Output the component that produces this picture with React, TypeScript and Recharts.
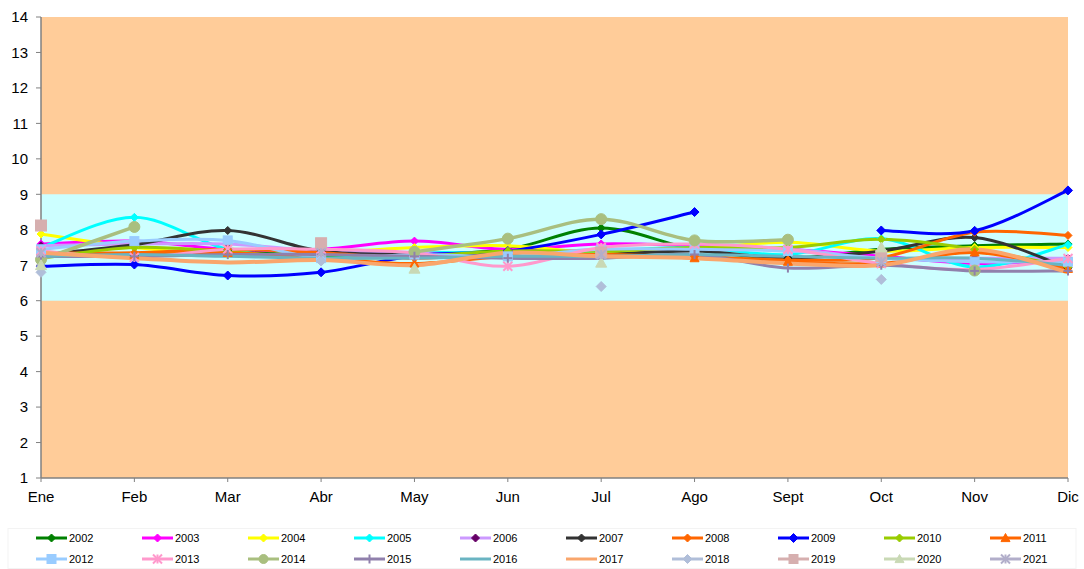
import React from 'react';
import { LineChart, Line, XAxis, YAxis, ReferenceArea, Legend } from 'recharts';

const months = ['Ene', 'Feb', 'Mar', 'Abr', 'May', 'Jun', 'Jul', 'Ago', 'Sept', 'Oct', 'Nov', 'Dic'];
const yTicks = [1, 2, 3, 4, 5, 6, 7, 8, 9, 10, 11, 12, 13, 14];
const years = ['2002', '2003', '2004', '2005', '2006', '2007', '2008', '2009', '2010', '2011',
  '2012', '2013', '2014', '2015', '2016', '2017', '2018', '2019', '2020', '2021'];

const s2002 = [7.3, 7.28, 7.4, 7.25, 7.3, 7.45, 8.05, 7.45, 7.2, 7.45, 7.55, 7.6];
const s2003 = [7.6, 7.68, 7.45, 7.45, 7.68, 7.45, 7.6, 7.55, 7.45, 7.25, 7.05, 7.15];
const s2004 = [7.88, 7.5, 7.3, 7.35, 7.5, 7.55, 7.35, 7.45, 7.65, 7.4, 7.5, 7.5];
const s2005 = [7.5, 8.35, 7.45, 7.2, 7.35, 7.35, 7.4, 7.5, 7.3, 7.75, 6.95, 7.58];
const s2006 = [7.55, 7.6, 7.6, 7.4, 7.35, 7.3, 7.45, 7.42, 7.45, 7.2, 7.2, 7.2];
const s2007 = [7.3, 7.58, 7.98, 7.4, 7.3, 7.3, 7.3, 7.4, 7.2, 7.4, 7.78, 6.93];
const s2008 = [7.35, 7.35, 7.45, 7.35, 7.2, 7.3, 7.3, 7.25, 7.15, 7.22, 7.93, 7.84];
const s2009 = [6.97, 7.02, 6.71, 6.8, 7.27, 7.4, 7.87, 8.5, null, 7.98, 7.97, 9.11];
const s2010 = [7.2, 7.5, 7.38, 7.2, 7.25, 7.4, 7.4, 7.5, 7.5, 7.73, 7.45, 6.95];
const s2011 = [7.3, 7.3, 7.35, 7.2, 7.05, 7.25, 7.3, 7.2, 7.1, 7.05, 7.36, 6.9];
const s2012 = [7.45, 7.68, 7.7, 7.2, 7.3, 7.25, 7.45, 7.45, 7.4, 7.2, 7.1, 7.1];
const s2013 = [7.4, 7.22, 7.45, 7.45, 7.35, 6.97, 7.5, 7.6, 7.45, 7.05, 6.88, 7.19];
const s2014 = [7.16, 8.08, null, null, 7.38, 7.75, 8.3, 7.7, 7.72, null, 6.85, null];
const s2015 = [7.25, 7.25, 7.3, 7.3, 7.25, 7.2, 7.2, 7.3, 6.92, 7.0, 6.84, 6.84];
const s2016 = [7.25, 7.3, 7.25, 7.2, 7.2, 7.25, 7.25, 7.3, 7.25, 7.2, 7.2, 7.0];
const s2017 = [7.35, 7.2, 7.08, 7.15, 7.0, 7.35, 7.25, 7.2, 7.05, 7.0, 7.45, 6.8];
const s2018 = [6.8, null, null, 7.12, null, null, 6.4, null, null, 6.6, null, null];
const s2019 = [8.12, null, null, 7.62, null, null, 7.36, null, null, 7.26, null, null];
const s2020 = [7.0, null, null, null, 6.9, null, 7.07, null, null, 7.5, null, null];
const s2021 = [7.35, null, null, 7.35, null, null, 7.3, null, null, 7.1, null, null];

const seriesValues = [s2002, s2003, s2004, s2005, s2006, s2007, s2008, s2009, s2010, s2011,
  s2012, s2013, s2014, s2015, s2016, s2017, s2018, s2019, s2020, s2021];

const lineColors = ['#008000', '#FF00FF', '#FFFF00', '#00FFFF', '#CC99FF', '#333333', '#FF6600', '#0000FF', '#99CC00', '#FF6600',
  '#99CCFF', '#FF99CC', '#A9BF7F', '#9080AC', '#6AB4C2', '#F9A66C', '#B0BED9', '#D6AFAF', '#C9D9B5', '#B2AECA'];
const markerColors = ['#008000', '#FF00FF', '#FFFF00', '#00FFFF', '#660066', '#333333', '#FF6600', '#0000FF', '#99CC00', '#FF6600',
  '#99CCFF', '#FF99CC', '#A9BF7F', '#9080AC', '#6AB4C2', '#F9A66C', '#B0BED9', '#D6AFAF', '#C9D9B5', '#B2AECA'];
const markerShapes = ['diamond', 'diamond', 'diamond', 'diamond', 'diamond', 'diamond', 'diamond', 'diamond', 'diamond', 'triangle',
  'square', 'star', 'circle', 'plus', 'none', 'none', 'diamond', 'square', 'triangle', 'star'];
const markerSizes = [4, 4, 4, 4, 4, 4, 4, 4.5, 4, 4.5, 4.5, 4.5, 5.5, 4.5, 0, 0, 5, 5.5, 5.5, 4.5];
const lineWidths = [3, 3, 3, 3, 3, 3, 3, 3, 3, 3, 3, 3, 3.5, 3, 3, 4, 3, 3, 3, 3];

const data = months.map((m, i) => {
  const row: any = { month: m };
  years.forEach((y, k) => { row[y] = seriesValues[k][i]; });
  return row;
});

// Excel-like smoothed line (Catmull-Rom style bezier)
const excelCurve: any = (context: any) => {
  let pts: number[][] = [];
  return {
    areaStart() {},
    areaEnd() {},
    lineStart() { pts = []; },
    point(x: number, y: number) { pts.push([+x, +y]); },
    lineEnd() {
      const n = pts.length;
      if (!n) return;
      context.moveTo(pts[0][0], pts[0][1]);
      for (let i = 0; i < n - 1; i++) {
        const p0 = pts[i - 1] || pts[i];
        const p1 = pts[i];
        const p2 = pts[i + 1];
        const p3 = pts[i + 2] || p2;
        context.bezierCurveTo(
          p1[0] + (p2[0] - p0[0]) / 6, p1[1] + (p2[1] - p0[1]) / 6,
          p2[0] - (p3[0] - p1[0]) / 6, p2[1] - (p3[1] - p1[1]) / 6,
          p2[0], p2[1]);
      }
    },
  };
};

function Marker({ cx, cy, shape, color, s }: any) {
  switch (shape) {
    case 'diamond':
      return <polygon points={`${cx},${cy - s} ${cx + s},${cy} ${cx},${cy + s} ${cx - s},${cy}`} fill={color} stroke={color} strokeWidth={1} />;
    case 'square':
      return <rect x={cx - s} y={cy - s} width={2 * s} height={2 * s} fill={color} stroke={color} strokeWidth={1} />;
    case 'triangle':
      return <polygon points={`${cx},${cy - s} ${cx + s},${cy + s * 0.8} ${cx - s},${cy + s * 0.8}`} fill={color} stroke={color} strokeWidth={1} />;
    case 'circle':
      return <circle cx={cx} cy={cy} r={s} fill={color} stroke={color} strokeWidth={1} />;
    case 'star':
      return (
        <g stroke={color} strokeWidth={2}>
          <line x1={cx - s} y1={cy - s} x2={cx + s} y2={cy + s} />
          <line x1={cx - s} y1={cy + s} x2={cx + s} y2={cy - s} />
          <line x1={cx} y1={cy - s} x2={cx} y2={cy + s} />
        </g>
      );
    case 'plus':
      return (
        <g stroke={color} strokeWidth={2}>
          <line x1={cx - s} y1={cy} x2={cx + s} y2={cy} />
          <line x1={cx} y1={cy - s} x2={cx} y2={cy + s} />
        </g>
      );
    default:
      return <g />;
  }
}

const makeDot = (k: number) => (props: any) => {
  const { cx, cy, index, value } = props;
  const key = `dot-${years[k]}-${index}`;
  if (value == null || cy == null || cx == null || markerShapes[k] === 'none') return <g key={key} />;
  return (
    <g key={key}>
      <Marker cx={cx} cy={cy} shape={markerShapes[k]} color={markerColors[k]} s={markerSizes[k]} />
    </g>
  );
};

const legendCols = 10;
const renderLegend = () => (
  <svg width={1084} height={42} style={{ display: 'block' }}>
    <rect x={8} y={0.5} width={1068} height={40} fill="none" stroke="#F3F3F3" />
    {years.map((y, k) => {
      const col = k % legendCols;
      const row = Math.floor(k / legendCols);
      const x0 = 36 + col * 106;
      const yc = 10 + row * 21;
      const s = Math.min(markerSizes[k], 4.5);
      return (
        <g key={y}>
          <line x1={x0} y1={yc} x2={x0 + 31} y2={yc} stroke={lineColors[k]} strokeWidth={3} />
          {markerShapes[k] !== 'none' && (
            <Marker cx={x0 + 15.5} cy={yc} shape={markerShapes[k]} color={markerColors[k]} s={s} />
          )}
          <text x={x0 + 33} y={yc} dy="0.36em" fontSize={11} fill="#000" fontFamily="'Liberation Sans', Arial, sans-serif">{y}</text>
        </g>
      );
    })}
  </svg>
);

export default function App() {
  return (
    <div style={{ position: 'absolute', left: 0, top: 0, width: 1084, height: 569, background: '#fff' }}>
      <LineChart width={1084} height={569} data={data} margin={{ top: 17, right: 16, bottom: 61, left: 0 }}
        style={{ fontFamily: "'Liberation Sans', Arial, sans-serif" }}>
        <ReferenceArea y1={1} y2={14} fill="#FFCC99" fillOpacity={1} stroke="none" ifOverflow="hidden" />
        <ReferenceArea y1={6} y2={9} fill="#CCFFFF" fillOpacity={1} stroke="none" ifOverflow="hidden" />
        <XAxis dataKey="month" type="category" allowDuplicatedCategory={false} height={30}
          axisLine={{ stroke: '#808080', strokeWidth: 1.5 }} tickLine={{ stroke: '#808080' }} tickSize={4} tickMargin={9}
          tick={{ fill: '#000', fontSize: 15 }} interval={0} />
        <YAxis type="number" domain={[1, 14]} ticks={yTicks} width={41} interval={0}
          axisLine={{ stroke: '#808080', strokeWidth: 1.5 }} tickLine={{ stroke: '#808080' }} tickSize={5} tickMargin={8}
          tick={{ fill: '#000', fontSize: 15 }} allowDataOverflow />
        {years.map((y, k) => (
          <Line key={y} dataKey={y} name={y} type={excelCurve} stroke={lineColors[k]} strokeWidth={lineWidths[k]}
            dot={makeDot(k)} activeDot={false} isAnimationActive={false} connectNulls={false} />
        ))}
        <Legend layout="horizontal" verticalAlign="middle" align="center" content={renderLegend}
          wrapperStyle={{ top: 528, left: 0, width: 1084, height: 42 }} />
      </LineChart>
    </div>
  );
}
